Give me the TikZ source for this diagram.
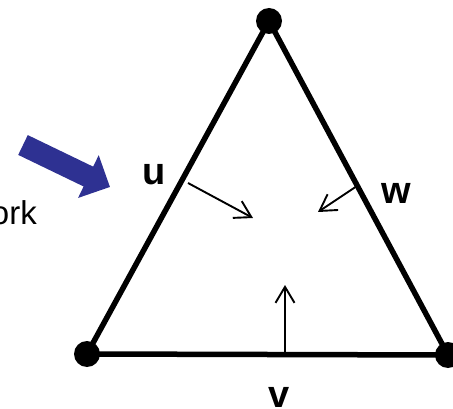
\documentclass[tikz,border=0pt]{standalone}
\usepackage{fontspec}
\setmainfont{Liberation Sans}
\usetikzlibrary{arrows.meta}
\definecolor{Navy}{HTML}{2E3192}
\tikzset{
  corner/.style={circle, fill=black, inner sep=0pt, minimum size=26pt},
  side/.style={line width=5.5pt, line join=round},
  push/.style={-{Straight Barb[length=16pt, width=19pt]}, line width=1.9pt},
  fat/.style={line width=22pt, draw=Navy, -{Triangle[length=24pt, width=46pt]}},
  lbl/.style={font=\fontsize{38}{42}\selectfont\bfseries, inner sep=0pt}
}
\begin{document}
\begin{tikzpicture}[x=1pt,y=-1pt]
\useasboundingbox (0,0) rectangle (453,409);
\clip (0,0) rectangle (453,409);
\node[corner] (top) at (269,21) {};
\node[corner] (left) at (87,354) {};
\node[corner] (right) at (448,355) {};
\draw[side] (top.center) -- (left.center) -- (right.center) -- cycle;
\node[lbl] (u) at (154,175) {u};
\node[lbl] (w) at (396,193) {w};
\node[lbl] (v) at (279,397) {v};
\node[font=\fontsize{33}{38}\selectfont, inner sep=0pt, anchor=base east] (ork) at (37,225) {ork};
\coordinate (utail) at (188,183);
\coordinate (uhead) at (253,218);
\coordinate (wtail) at (357,186);
\coordinate (whead) at (318,212);
\coordinate (vtail) at (285,355);
\coordinate (vhead) at (285,285);
\draw[push] (utail) -- (uhead);
\draw[push] (wtail) -- (whead);
\draw[push] (vtail) -- (vhead);
\coordinate (ftail) at (23,145);
\coordinate (fhead) at (110,187);
\draw[fat] (ftail) -- (fhead);
\end{tikzpicture}
\end{document}
